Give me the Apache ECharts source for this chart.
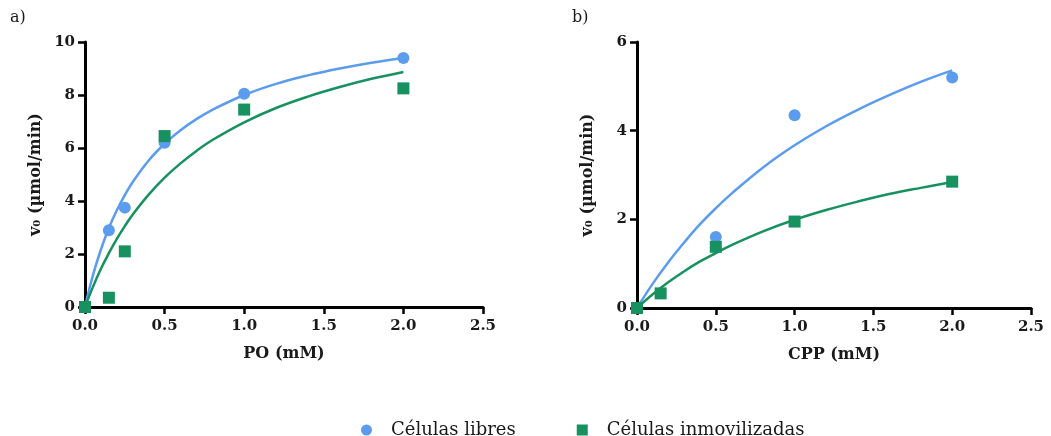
<!DOCTYPE html>
<html>
<head>
<meta charset="utf-8">
<script src="https://cdn.jsdelivr.net/npm/echarts@6/dist/echarts.min.js"></script>
<style>
html,body{margin:0;padding:0;background:#fff;}
#chart{width:1051px;height:436px;}
</style>
</head>
<body>
<div id="chart"></div>
<script>
// ---- Data ----
const seriesNames = ['Células libres', 'Células inmovilizadas'];
const panelLabels = ['a)', 'b)'];
const xAxisNames = ['PO (mM)', 'CPP (mM)'];
const yAxisName = 'v₀ (µmol/min)';

// Panel a: PO
const aLibresX = [0, 0.15, 0.25, 0.5, 1.0, 2.0];
const aLibresY = [0, 2.9, 3.75, 6.2, 8.05, 9.4];
const aInmovX = [0, 0.15, 0.25, 0.5, 1.0, 2.0];
const aInmovY = [0, 0.35, 2.1, 6.45, 7.45, 8.25];
const aFitX = [0, 0.05, 0.1, 0.15, 0.2, 0.25, 0.3, 0.4, 0.5, 0.6, 0.7, 0.8, 1.0, 1.2, 1.4, 1.6, 1.8, 2.0];
const aFitLibresY = [0, 1.20, 2.17, 2.98, 3.65, 4.22, 4.72, 5.53, 6.16, 6.67, 7.09, 7.44, 8.00, 8.42, 8.74, 9.00, 9.22, 9.40];
const aFitInmovY = [0, 0.76, 1.44, 2.03, 2.57, 3.05, 3.49, 4.24, 4.88, 5.42, 5.89, 6.30, 6.97, 7.51, 7.94, 8.30, 8.61, 8.87];

// Panel b: CPP
const bLibresX = [0, 0.5, 1.0, 2.0];
const bLibresY = [0, 1.6, 4.35, 5.2];
const bInmovX = [0, 0.15, 0.5, 1.0, 2.0];
const bInmovY = [0, 0.33, 1.38, 1.95, 2.85];
const bFitX = [0, 0.1, 0.2, 0.3, 0.4, 0.5, 0.6, 0.8, 1.0, 1.2, 1.4, 1.6, 1.8, 2.0];
const bFitLibresY = [0, 0.55, 1.04, 1.48, 1.89, 2.25, 2.58, 3.17, 3.67, 4.10, 4.47, 4.80, 5.10, 5.36];
const bFitInmovY = [0, 0.31, 0.585, 0.83, 1.05, 1.24, 1.42, 1.73, 1.99, 2.21, 2.40, 2.57, 2.71, 2.84];

const xTickMin = 0, xTickMax = 2.5, xTickStep = 0.5;
const aYMax = 10, aYStep = 2;
const bYMax = 6, bYStep = 2;

// ---- Build chart ----
const BLUE = '#5b9cee';
const GREEN = '#16915f';
const FONT = 'DejaVu Serif';
const TXT = '#1a1a1a';
const pairs = (xs, ys) => xs.map((x, i) => [x, ys[i]]);

function xAxis(gridIndex, name) {
  return {
    type: 'value', gridIndex, min: xTickMin, max: xTickMax, interval: xTickStep,
    name, nameLocation: 'middle', nameGap: 39,
    nameTextStyle: { fontFamily: FONT, fontWeight: 'bold', fontSize: 16, color: TXT },
    axisLine: { show: true, onZero: false, lineStyle: { color: '#000', width: 3 } },
    axisTick: { show: true, inside: false, length: 7, lineStyle: { color: '#000', width: 2.5 } },
    axisLabel: { margin: 12, fontFamily: FONT, fontWeight: 'bold', fontSize: 15, color: TXT,
      formatter: v => v.toFixed(1) },
    splitLine: { show: false }
  };
}
function yAxis(gridIndex, max, step) {
  return {
    type: 'value', gridIndex, min: 0, max, interval: step,
    name: yAxisName, nameLocation: 'middle', nameGap: 41, nameRotate: 90,
    nameTextStyle: { fontFamily: FONT, fontWeight: 'bold', fontSize: 16, color: TXT },
    axisLine: { show: true, onZero: false, lineStyle: { color: '#000', width: 3 } },
    axisTick: { show: true, inside: false, length: 7, lineStyle: { color: '#000', width: 2.5 } },
    axisLabel: { margin: 10, fontFamily: FONT, fontWeight: 'bold', fontSize: 15, color: TXT },
    splitLine: { show: false }
  };
}
function fitLine(name, idx, data, color) {
  return { name, type: 'line', xAxisIndex: idx, yAxisIndex: idx, data, smooth: 0.4,
    showSymbol: false, symbol: 'none', lineStyle: { color, width: 2.5 }, z: 2, silent: true };
}
function points(name, idx, data, color, symbol, size) {
  return { name, type: 'scatter', xAxisIndex: idx, yAxisIndex: idx, data, symbol,
    symbolSize: size, itemStyle: { color, opacity: 1 }, z: 3 };
}

const option = {
  backgroundColor: '#fff',
  animation: false,
  grid: [
    { left: 85, top: 42, width: 398, height: 265 },
    { left: 637, top: 42, width: 394, height: 266 }
  ],
  xAxis: [xAxis(0, xAxisNames[0]), xAxis(1, xAxisNames[1])],
  yAxis: [yAxis(0, aYMax, aYStep), yAxis(1, bYMax, bYStep)],
  legend: {
    data: [
      { name: seriesNames[0], icon: 'circle' },
      { name: seriesNames[1], icon: 'rect' }
    ],
    left: 356, top: 416, itemWidth: 11, itemHeight: 11, itemGap: 61,
    textStyle: { fontFamily: FONT, fontSize: 18, color: TXT, padding: [0, 0, 0, 14] }
  },
  graphic: [
    { type: 'text', left: 10, top: 10, style: { text: panelLabels[0], font: '16px "DejaVu Serif"', fill: TXT } },
    { type: 'text', left: 572, top: 10, style: { text: panelLabels[1], font: '16px "DejaVu Serif"', fill: TXT } }
  ],
  series: [
    fitLine('fitA1', 0, pairs(aFitX, aFitLibresY), BLUE),
    fitLine('fitA2', 0, pairs(aFitX, aFitInmovY), GREEN),
    points(seriesNames[0], 0, pairs(aLibresX, aLibresY), BLUE, 'circle', 12),
    points(seriesNames[1], 0, pairs(aInmovX, aInmovY), GREEN, 'rect', 12),
    fitLine('fitB1', 1, pairs(bFitX, bFitLibresY), BLUE),
    fitLine('fitB2', 1, pairs(bFitX, bFitInmovY), GREEN),
    points(seriesNames[0], 1, pairs(bLibresX, bLibresY), BLUE, 'circle', 12),
    points(seriesNames[1], 1, pairs(bInmovX, bInmovY), GREEN, 'rect', 12)
  ]
};
const chart = echarts.init(document.getElementById('chart'), null, { renderer: 'canvas' });
chart.setOption(option);
</script>
</body>
</html>
